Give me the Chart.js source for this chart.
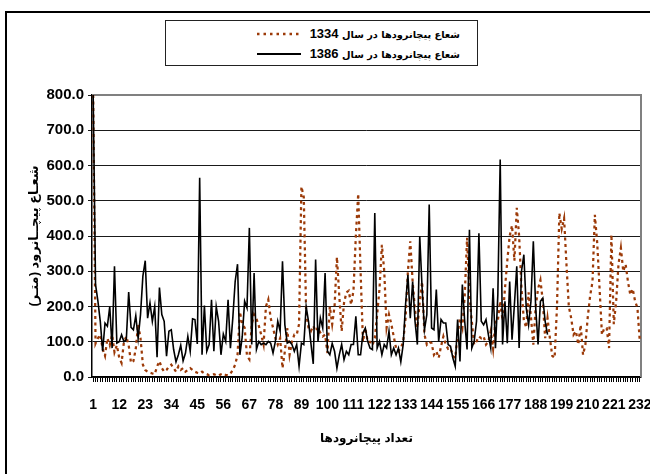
<!DOCTYPE html>
<html>
<head>
<meta charset="utf-8">
<script src="https://cdn.jsdelivr.net/npm/chart.js@4.4.1/dist/chart.umd.min.js"></script>
<style>
  html, body { margin: 0; padding: 0; background: #fff; }
  #wrap { position: relative; width: 650px; height: 474px; overflow: hidden; }
  #frame { position: absolute; left: 5px; top: 11px; width: 700px; height: 520px; border: 2.5px solid #000; }
  #chart { position: absolute; left: 0; top: 0; }
  #legend {
    position: absolute; left: 165px; top: 20px; width: 313px; height: 46px;
    box-sizing: border-box; border: 1.5px solid #222; background: #fff;
  }
  .row { position: absolute; left: 0; right: 0; height: 20px; }
  .row svg { position: absolute; left: 91px; top: 7px; }
  .row span {
    position: absolute; right: 17px; top: 2px; direction: rtl; white-space: nowrap;
    font: bold 9.8px "DejaVu Sans", sans-serif; color: #000;
  }
  .row b { font: bold 13px "Liberation Sans", Arial, sans-serif; }
</style>
</head>
<body>
<div id="wrap">
  <div id="frame"></div>
  <canvas id="chart" width="650" height="474"></canvas>
  <div id="legend"></div>
</div>
<script>
// categories (eddy number) and the labels Excel printed under the axis
const categories = Array.from({ length: 232 }, (_, i) => String(i + 1));
const tickLabels = ["1", "12", "23", "34", "45", "56", "67", "78", "89", "100", "111",
  "122", "133", "144", "155", "166", "177", "188", "199", "210", "221", "232"];

const seriesNames = ["شعاع پیچانرودها در سال 1334", "شعاع پیچانرودها در سال 1386"];

// eddy radius (m), year 1334
const radius1334 = [
  800, 95, 110, 120, 80, 60, 110, 90, 120, 70,
  90, 55, 40, 100, 115, 90, 40, 45, 80, 150,
  110, 35, 20, 15, 12, 10, 8, 30, 45, 25,
  15, 20, 30, 35, 25, 15, 30, 20, 25, 15,
  20, 25, 20, 15, 12, 10, 15, 10, 8, 5,
  6, 8, 5, 4, 8, 10, 6, 5, 10, 20,
  35, 63, 185, 150, 140, 60, 50, 150, 177, 165,
  145, 120, 92, 200, 220, 167, 140, 110, 92, 110,
  25, 73, 139, 63, 100, 120, 120, 150, 540, 510,
  180, 140, 130, 145, 130, 140, 125, 115, 120, 68,
  200, 150, 200, 340, 230, 130, 210, 240, 245, 205,
  245, 400, 520, 300, 100, 139, 100, 100, 90, 110,
  177, 250, 375, 300, 140, 177, 150, 115, 82, 73,
  82, 100, 167, 300, 385, 270, 190, 140, 215, 270,
  120, 92, 100, 96, 63, 73, 54, 87, 115, 92,
  80, 82, 60, 54, 120, 167, 140, 230, 395, 230,
  158, 92, 101, 115, 110, 115, 92, 101, 130, 80,
  160, 160, 215, 160, 250, 330, 400, 430, 330, 480,
  400, 250, 160, 140, 240, 170, 92, 200, 250, 275,
  215, 110, 167, 110, 60, 54, 200, 465, 420, 450,
  320, 200, 167, 120, 130, 92, 148, 63, 92, 170,
  230, 270, 460, 380, 250, 120, 139, 139, 82, 404,
  150, 215, 320, 366, 300, 320, 270, 233, 250, 215,
  196, 100
];

// eddy radius (m), year 1386 - only 193 eddies
const radius1386 = [
  800, 262, 215, 158, 73, 153, 144, 200, 82, 314,
  96, 100, 120, 100, 106, 241, 141, 134, 174, 109,
  177, 286, 330, 167, 210, 158, 200, 56, 254, 177,
  158, 59, 130, 134, 78, 43, 63, 90, 46, 68,
  115, 73, 165, 163, 94, 565, 63, 203, 73, 92,
  219, 73, 200, 158, 63, 122, 101, 219, 82, 167,
  271, 320, 63, 115, 215, 196, 423, 92, 295, 78,
  101, 92, 96, 92, 101, 96, 68, 101, 158, 130,
  328, 148, 96, 101, 92, 73, 92, 30, 96, 92,
  200, 158, 96, 37, 333, 101, 167, 139, 295, 73,
  63, 95, 73, 25, 63, 92, 49, 73, 63, 92,
  92, 172, 63, 63, 125, 139, 101, 82, 78, 465,
  82, 101, 63, 92, 82, 130, 63, 82, 63, 82,
  43, 92, 205, 290, 167, 271, 158, 92, 399, 252,
  134, 177, 489, 139, 134, 248, 101, 163, 153, 153,
  92, 87, 54, 30, 163, 44, 262, 158, 78, 418,
  82, 101, 158, 408, 158, 148, 163, 120, 82, 252,
  82, 233, 617, 92, 215, 96, 271, 106, 205, 314,
  82, 300, 347, 196, 148, 215, 385, 196, 92, 215,
  224, 158, 120
];

const LATIN = "'Liberation Sans', Arial, sans-serif";
const TITLE = "'Liberation Sans', 'DejaVu Sans', sans-serif";

Chart.defaults.color = "#000";

// gray border on top and right of the plot area, like Excel's plot box
const plotFrame = {
  id: "plotFrame",
  beforeDatasetsDraw(chart) {
    const { ctx, chartArea: a } = chart;
    ctx.save();
    ctx.strokeStyle = "#808080";
    ctx.lineWidth = 2;
    ctx.beginPath();
    ctx.moveTo(a.left, a.top);
    ctx.lineTo(a.right, a.top);
    ctx.lineTo(a.right, a.bottom);
    ctx.stroke();
    ctx.restore();
  }
};

const chart = new Chart(document.getElementById("chart").getContext("2d"), {
  type: "line",
  data: {
    labels: categories,
    datasets: [
      {
        label: seriesNames[0],
        data: radius1334,
        borderColor: "#9c3a08",
        borderWidth: 2.25,
        borderDash: [3, 3.5],
        pointRadius: 0,
        tension: 0,
        order: 1
      },
      {
        label: seriesNames[1],
        data: radius1386,
        borderColor: "#000",
        borderWidth: 1.6,
        pointRadius: 0,
        tension: 0,
        order: 0
      }
    ]
  },
  options: {
    responsive: false,
    animation: false,
    layout: { padding: { top: 95, right: 9, left: 0, bottom: 0 } },
    plugins: {
      legend: { display: false },
      tooltip: { enabled: false }
    },
    scales: {
      x: {
        offset: true,
        grid: { drawOnChartArea: false, drawTicks: true, tickLength: 5, color: "#000", offset: false },
        border: { color: "#000", width: 1.5 },
        ticks: {
          autoSkip: false,
          maxRotation: 0,
          minRotation: 0,
          padding: 15,
          font: { family: LATIN, size: 14, weight: "bold" },
          callback: function (value) {
            const label = this.getLabelForValue(value);
            return tickLabels.includes(label) ? label : "";
          }
        },
        title: {
          display: true,
          text: "تعداد پیچانرودها",
          font: { family: TITLE, size: 12, weight: "bold" },
          padding: { top: 0, bottom: 28 }
        },
        afterFit: (scale) => {
          scale.height = 97;
          scale.paddingLeft = 0;
          scale.paddingRight = 0;
        }
      },
      y: {
        min: 0,
        max: 800,
        ticks: {
          stepSize: 100,
          padding: 4,
          font: { family: LATIN, size: 15, weight: "bold" },
          callback: (v) => v.toFixed(1)
        },
        grid: { color: "#1a1a1a", lineWidth: 1, tickLength: 4 },
        border: { color: "#000", width: 1.5 },
        title: {
          display: true,
          text: "شعـاع پیچــانرود (متـر)",
          font: { family: TITLE, size: 13, weight: "bold" },
          padding: { top: 27, bottom: 0 }
        },
        afterFit: (scale) => { scale.width = 92; }
      }
    }
  },
  plugins: [plotFrame]
});

// legend box drawn in HTML, one row per dataset
const legend = document.getElementById("legend");
chart.data.datasets.forEach((ds, i) => {
  const row = document.createElement("div");
  row.className = "row";
  row.style.top = (3 + i * 20) + "px";
  const dash = ds.borderDash ? ' stroke-dasharray="2.5 4"' : "";
  const text = ds.label.replace(/(\d+)/, "<b>$1</b>");
  row.innerHTML =
    '<svg width="44" height="6"><line x1="0" y1="3" x2="44" y2="3" stroke="' + ds.borderColor +
    '" stroke-width="' + (ds.borderDash ? 2.5 : 2) + '"' + dash + '/></svg>' +
    "<span>" + text + "</span>";
  legend.appendChild(row);
});
</script>
</body>
</html>
